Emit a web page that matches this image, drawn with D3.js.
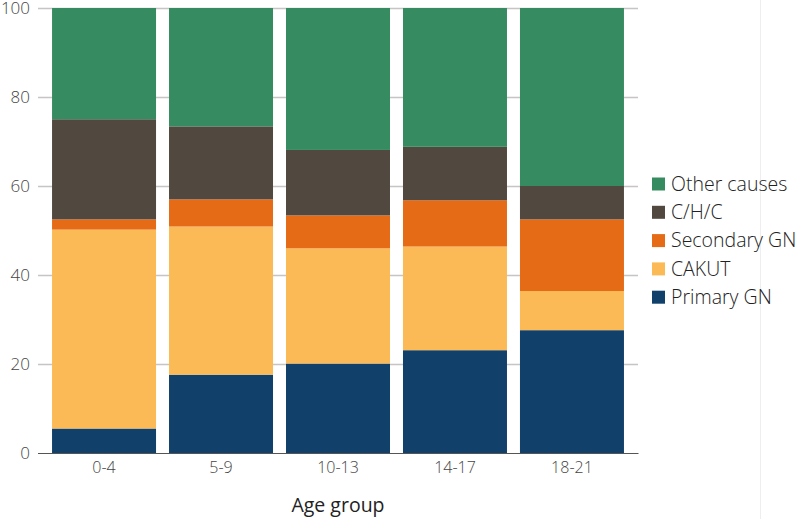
<!DOCTYPE html>
<html><head><meta charset="utf-8">
<script src="https://cdn.jsdelivr.net/npm/d3@7"></script>
<style>body{margin:0;background:#fff}svg{display:block}</style>
</head><body>
<svg id="c" width="800" height="519"></svg>
<script>
const categories = ["0-4","5-9","10-13","14-17","18-21"];
const seriesNames = ["Primary GN","CAKUT","Secondary GN","C/H/C","Other causes"];
const primaryGN   = [5.5, 17.6, 20.1, 23.1, 27.6];
const cakut       = [44.7, 33.3, 25.9, 23.3, 8.8];
const secondaryGN = [2.3, 6.1, 7.4, 10.4, 16.1];
const chc         = [22.5, 16.4, 14.7, 12.0, 7.5];
const otherCauses = [25.0, 26.6, 31.9, 31.2, 40.0];
const yTicks = [0,20,40,60,80,100];
const colors = ["#11406b","#fbba55","#e56b17","#51483f","#378b61"];

const svg = d3.select("#c");
const x = d3.scaleBand().domain(categories).range([38,638]).paddingInner(0.111).paddingOuter(0.12);
const y = d3.scaleLinear().domain([0,100]).range([453,8]);

const rows = categories.map((c,i)=>({cat:c,"Primary GN":primaryGN[i],"CAKUT":cakut[i],"Secondary GN":secondaryGN[i],"C/H/C":chc[i],"Other causes":otherCauses[i]}));
const stack = d3.stack().keys(seriesNames)(rows);

svg.append("line").attr("x1",760.5).attr("x2",760.5).attr("y1",0).attr("y2",519).attr("stroke","#eeeeee");

svg.append("g").selectAll("line").data(yTicks).join("line")
  .attr("x1",38).attr("x2",638).attr("y1",d=>y(d)+0.5).attr("y2",d=>y(d)+0.5)
  .attr("stroke",d=>d===0?"#555":"#c8c4c4").attr("stroke-width",d=>d===0?1:1.5);

const yg = svg.append("g").attr("transform","translate(38,0)").call(d3.axisLeft(y).tickValues(yTicks).tickSize(0).tickPadding(8));
yg.select(".domain").remove();
yg.selectAll("text").attr("font-family","Open Sans, sans-serif").attr("font-weight",300).attr("font-size",17).attr("fill","#444");

svg.append("g").selectAll("g").data(stack).join("g").attr("fill",(d,i)=>colors[i])
  .selectAll("rect").data(d=>d).join("rect")
  .attr("x",d=>x(d.data.cat)).attr("width",x.bandwidth())
  .attr("y",d=>y(d[1])).attr("height",d=>y(d[0])-y(d[1]));

const xg = svg.append("g").attr("transform","translate(0,453)").call(d3.axisBottom(x).tickSize(0).tickPadding(9));
xg.select(".domain").attr("stroke","#555");
xg.selectAll("text").attr("font-family","Open Sans, sans-serif").attr("font-weight",300).attr("font-size",16).attr("fill","#444");

svg.append("text").attr("x",338).attr("y",512).attr("text-anchor","middle")
  .attr("font-family","Open Sans, sans-serif").attr("font-size",19.5).attr("fill","#222").text("Age group");

const legendOrder = seriesNames.slice().reverse();
const lg = svg.append("g").selectAll("g").data(legendOrder).join("g")
  .attr("transform",(d,i)=>`translate(652,${184+i*28.3})`);
lg.append("rect").attr("x",0).attr("y",-6.5).attr("width",13).attr("height",13)
  .attr("fill",d=>colors[seriesNames.indexOf(d)]);
lg.append("text").attr("x",19).attr("y",0).attr("dy","0.35em")
  .attr("font-family","Open Sans, sans-serif").attr("font-weight",300).attr("font-size",19.5).attr("fill","#222").text(d=>d);
</script>
</body></html>
